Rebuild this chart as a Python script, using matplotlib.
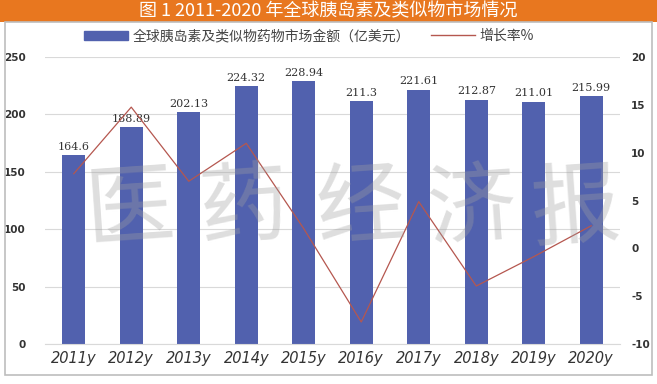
import numpy as np
import matplotlib.pyplot as plt
from matplotlib.patches import Rectangle
from matplotlib.lines import Line2D

plt.rcParams['font.family'] = ['Noto Sans CJK SC', 'DejaVu Sans']
plt.rcParams['axes.unicode_minus'] = False

years = ['2011y', '2012y', '2013y', '2014y', '2015y',
         '2016y', '2017y', '2018y', '2019y', '2020y']
market = [164.6, 188.89, 202.13, 224.32, 228.94, 211.3, 221.61, 212.87, 211.01, 215.99]
market_labels = ['164.6', '188.89', '202.13', '224.32', '228.94',
                 '211.3', '221.61', '212.87', '211.01', '215.99']
growth = [7.8, 14.76, 7.01, 10.98, 2.06, -7.7, 4.88, -3.94, -0.87, 2.36]

bar_color = '#5161AE'
line_color = '#B5574F'
title_color = '#E8771F'

fig = plt.figure(figsize=(6.57, 3.84), dpi=100)

# title bar and frame
fig.patches.append(Rectangle((0, 1 - 22 / 384), 1, 22 / 384, transform=fig.transFigure,
                             facecolor=title_color, edgecolor='none', zorder=0))
fig.patches.append(Rectangle((5 / 657, 9 / 384), 647 / 657, (384 - 22 - 9) / 384,
                             transform=fig.transFigure, facecolor='none',
                             edgecolor='#BDBDBD', lw=1.2, zorder=0))
fig.text(0.5, 1 - 11 / 384, '图 1 2011-2020 年全球胰岛素及类似物市场情况',
         ha='center', va='center', color='white', fontsize=13, fontweight='medium')

ax = fig.add_axes([45 / 657, 40 / 384, 575 / 657, 287 / 384])
x = np.arange(len(years))
ax.bar(x, market, width=0.4, color=bar_color, zorder=2)
for xi, v, s in zip(x, market, market_labels):
    ax.text(xi, v + 3, s, ha='center', va='bottom', fontsize=8,
            family='DejaVu Serif', color='#333333')

ax.set_xlim(-0.5, 9.5)
ax.set_ylim(0, 250)
ax.set_yticks(np.arange(0, 251, 50))
ax.set_xticks(x)
ax.set_xticklabels(years, fontsize=10.5, style='italic', family='DejaVu Sans', color='#333333')
ax.tick_params(axis='both', length=0, colors='#333333')
ax.tick_params(axis='y', pad=14, labelsize=7.5)
ax.tick_params(axis='x', pad=5)
for lbl in ax.get_yticklabels():
    lbl.set_fontweight('bold')
    lbl.set_family('DejaVu Sans')
ax.grid(axis='y', color='#D9D9D9', lw=0.8, zorder=0)
for sp in ax.spines.values():
    sp.set_visible(False)
ax.spines['bottom'].set_visible(True)
ax.spines['bottom'].set_color('#D9D9D9')

ax2 = ax.twinx()
ax2.plot(x, growth, color=line_color, lw=0.9, zorder=3)
ax2.set_ylim(-10, 20)
ax2.set_yticks(np.arange(-10, 21, 5))
ax2.tick_params(axis='y', length=0, labelsize=7.5, colors='#333333', pad=8)
for lbl in ax2.get_yticklabels():
    lbl.set_fontweight('bold')
    lbl.set_family('DejaVu Sans')
for sp in ax2.spines.values():
    sp.set_visible(False)

# legend
handles = [Rectangle((0, 0), 1, 1, color=bar_color),
           Line2D([0], [0], color=line_color, lw=1)]
fig.legend(handles, ['全球胰岛素及类似物药物市场金额（亿美元）', '增长率%'],
           loc='center', bbox_to_anchor=(0.47, 1 - 36 / 384), ncol=2, frameon=False,
           fontsize=10, handlelength=3.2, handleheight=0.6, columnspacing=1.5,
           handletextpad=0.3, labelcolor='#444444')

# watermark
for ch, cx in zip('医药经济报', [130, 243, 360, 472, 575]):
    fig.text(cx / 657, 1 - 210 / 384, ch, ha='center', va='center', fontsize=64,
             color='#A0A0A0', alpha=0.35, zorder=10, rotation=4)

fig.savefig('out.png', dpi=100)
